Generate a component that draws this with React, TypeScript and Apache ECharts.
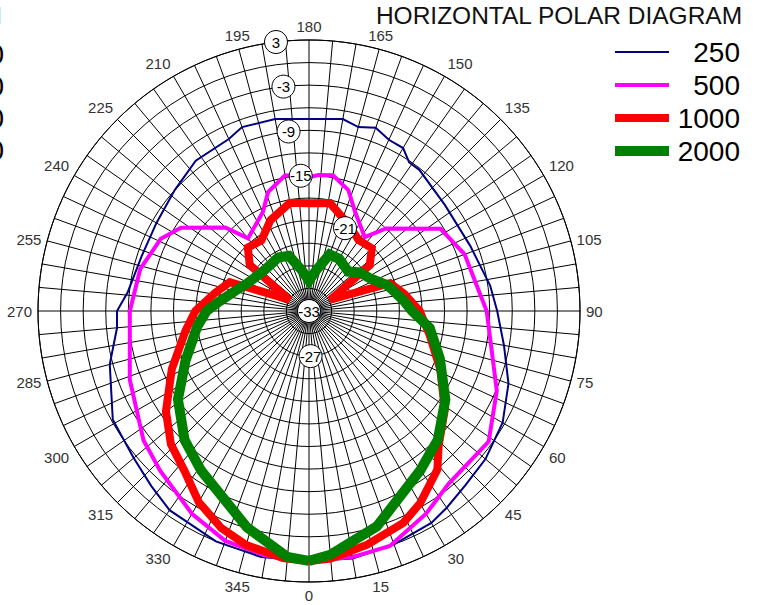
import React, { useEffect, useRef } from "react";
import * as echarts from "echarts";

const TITLE = "HORIZONTAL POLAR DIAGRAM";
const FREQS = ["250", "500", "1000", "2000"];
const COLORS = ["#000080", "#ff00ff", "#ff0000", "#008000"];
const WIDTHS = [2, 4, 8, 10];

const ANG_250 = [0, 10, 20, 30, 35, 42, 50, 60, 70, 80, 90, 98, 112, 128, 142, 146, 150, 155, 160, 165, 170, 180, 190, 200, 205, 217, 228, 240, 252, 264, 270, 275, 285, 299, 310, 318, 325, 338, 349, 360];
const DB_250 = [0.2, 0.4, 0, -0.5, -1.1, -1.9, -2.4, -3.3, -4.8, -6.7, -8, -8.7, -9.9, -10.1, -9.2, -9.2, -8.0, -7.9, -7.1, -7.7, -7.1, -7.5, -7.1, -7, -7.8, -8.0, -9.0, -9.6, -9.6, -8.8, -7.5, -7.4, -5.6, -3.2, -2.6, -1.7, -0.7, 0, 0.3, 0.2];

const ANG_500 = [0, 10, 19, 30, 39, 54, 67, 78, 90, 110, 122, 137, 143, 155, 162, 170, 176, 180, 190, 199, 205, 220, 225, 237, 244, 256, 270, 291, 308, 317, 330, 340, 350, 360];
const DB_500 = [0.2, 0.2, 0, -1.9, -3.5, -3.5, -5.9, -8.2, -9.4, -11, -12.4, -18, -20.7, -18.5, -16.1, -14.7, -14.9, -15.2, -14.7, -16.3, -18.5, -20.4, -17.3, -12.7, -11.1, -9.9, -9.2, -7.5, -5.1, -4.0, -1.9, -0.5, 0, 0.2];

const ANG_1000 = [0, 5, 14, 24, 30, 39, 44, 54, 66, 79, 90, 100, 109, 118, 127, 135, 145, 155, 169, 180, 190, 203, 214, 224, 232, 240, 250, 259, 270, 279, 293, 305, 314, 322, 330, 338, 345, 354, 360];
const DB_1000 = [0.2, 0, -1, -2.2, -3.5, -5.9, -8.2, -10.7, -13.9, -16.7, -18.3, -20.1, -21.6, -29.8, -22.9, -21.2, -21.5, -20.4, -18.4, -18.7, -18.4, -19.9, -21.7, -21.3, -23, -30, -21.8, -20.3, -17.9, -16.4, -13.2, -9.8, -7.5, -6.1, -3.7, -1.9, -0.8, 0, 0.2];

const ANG_2000 = [0, 5, 17.5, 35, 45, 57, 70, 82, 90, 96, 108, 118, 127, 135, 150, 160, 170, 180, 190, 200, 210, 225, 233, 246, 255, 264, 270, 278, 292, 304, 316, 326, 344, 355, 360];
const DB_2000 = [0.2, -0.5, -3, -7.2, -8.8, -11.4, -14.5, -16.8, -19.3, -20.3, -22, -23.8, -24.5, -25.6, -25, -25, -27.5, -29, -27.5, -25.2, -24.8, -25, -24.8, -24, -22.8, -21, -19.4, -18, -15.3, -12, -9.2, -7.4, -3.1, -0.2, 0.2];

const SERIES_ANGLES = [ANG_250, ANG_500, ANG_1000, ANG_2000];
const SERIES_DB = [DB_250, DB_500, DB_1000, DB_2000];

const RADIAL_LABEL_VALUES = [3, -3, -9, -15, -21, -27, -33];
const RADIAL_LABEL_ANGLES = [187, 186.5, 186.5, 183.5, 156.5, 2, 0];

const LEFT_ROWS_Y = [54, 86, 118, 150];

const FONT = "'Liberation Sans', Arial, sans-serif";

export default function App() {
  const ref = useRef<HTMLDivElement>(null);
  useEffect(() => {
    const chart = echarts.init(ref.current!, null, { renderer: "svg" });
    const lineSeries = FREQS.map((name, i) => ({
      type: "line",
      name,
      coordinateSystem: "polar",
      data: SERIES_ANGLES[i].map((a, j) => [SERIES_DB[i][j], a]),
      symbol: "none",
      showSymbol: false,
      lineStyle: { color: COLORS[i], width: WIDTHS[i], join: "miter", miterLimit: 4 },
      itemStyle: { color: COLORS[i] },
      z: 2 + i,
      silent: true,
    }));
    const option: any = {
      animation: false,
      backgroundColor: "#ffffff",
      polar: { center: [309, 311], radius: 271 },
      angleAxis: {
        type: "value",
        min: 0,
        max: 360,
        interval: 5,
        startAngle: 270,
        clockwise: false,
        axisLine: { show: true, lineStyle: { color: "#000", width: 1 } },
        axisTick: { show: false },
        splitLine: { show: true, lineStyle: { color: "#000", width: 1 } },
        axisLabel: {
          margin: 6,
          color: "#333",
          fontSize: 15,
          fontFamily: FONT,
          formatter: (v: number) => (v % 15 === 0 && v < 360 ? String(v) : ""),
        },
      },
      radiusAxis: {
        type: "value",
        min: -33,
        max: 3,
        interval: 3,
        axisLine: { show: false },
        axisTick: { show: false },
        axisLabel: { show: false },
        splitLine: { show: true, lineStyle: { color: "#000", width: 1 } },
      },
      legend: {
        orient: "vertical",
        right: 19,
        top: 38,
        padding: 0,
        itemGap: 5,
        itemWidth: 54,
        itemHeight: 14,
        selectedMode: false,
        formatter: (n: string) => `{a|${n}}`,
        textStyle: {
          rich: {
            a: { width: 66, align: "right", fontSize: 28, lineHeight: 31, color: "#000", fontFamily: FONT },
          },
        },
        data: FREQS.map((n, i) => ({
          name: n,
          itemStyle: { opacity: 0 },
          lineStyle: { color: COLORS[i], width: WIDTHS[i], opacity: 1 },
        })),
      },
      graphic: [
        {
          type: "text",
          right: 16,
          top: 3,
          style: { text: TITLE, fontSize: 24.5, fontFamily: FONT, fill: "#111" },
        },
        {
          type: "text",
          x: 2,
          y: 3,
          style: { text: TITLE, fontSize: 24.5, fontFamily: FONT, fill: "#111", align: "right", textAlign: "right", verticalAlign: "top" },
        },
        ...FREQS.map((n, i) => ({
          type: "text",
          x: 4,
          y: LEFT_ROWS_Y[i],
          style: { text: n, fontSize: 28, fontFamily: FONT, fill: "#000", align: "right", textAlign: "right", verticalAlign: "middle", textVerticalAlign: "middle" },
        })),
      ],
      series: [
        ...lineSeries,
        {
          type: "scatter",
          coordinateSystem: "polar",
          data: RADIAL_LABEL_VALUES.map((v, i) => [v, RADIAL_LABEL_ANGLES[i]]),
          symbol: "circle",
          symbolSize: 23,
          itemStyle: { color: "#fff", borderColor: "#000", borderWidth: 1, opacity: 1 },
          label: {
            show: true,
            position: "inside",
            color: "#000",
            fontSize: 15,
            fontFamily: FONT,
            formatter: (p: any) => String(p.value[0]),
          },
          z: 10,
          silent: true,
        },
      ],
    };
    chart.setOption(option);
    return () => chart.dispose();
  }, []);
  return (
    <div
      ref={ref}
      style={{ position: "fixed", left: 0, top: 0, width: 759, height: 605, background: "#fff" }}
    />
  );
}
